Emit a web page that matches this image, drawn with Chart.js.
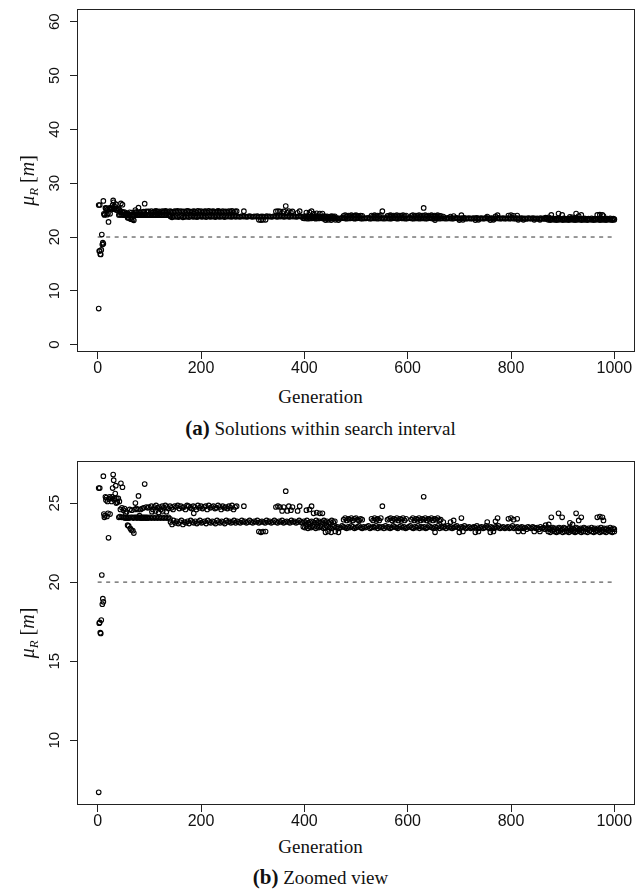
<!DOCTYPE html>
<html>
<head>
<meta charset="utf-8">
<title>mu_R per generation</title>
<script src="https://cdn.jsdelivr.net/npm/chart.js@4.4.1/dist/chart.umd.min.js"></script>
<style>
  body { margin: 0; background: #fff; width: 641px; height: 891px; position: relative; overflow: hidden; }
  canvas { position: absolute; left: 0; }
  .txt { position: absolute; left: 0; width: 641px; text-align: center; font-family: "Liberation Serif", "Times New Roman", serif; color: #111; white-space: nowrap; }
  .txt b { font-size: 21px; }
</style>
</head>
<body>
<canvas id="chartA" width="641" height="380" style="top:0"></canvas>
<div class="txt" style="top:385px;font-size:19px;line-height:24px">Generation</div>
<div class="txt" style="top:415px;font-size:19px;line-height:26px"><b>(a)</b> Solutions within search interval</div>

<canvas id="chartB" width="641" height="390" style="top:445px"></canvas>
<div class="txt" style="top:835px;font-size:19px;line-height:24px">Generation</div>
<div class="txt" style="top:864px;font-size:19px;line-height:26px"><b>(b)</b> Zoomed view</div>

<script>
// [generation, mu_R] pairs, grouped by where they sit in the run
const earlyPhase = [
  [2,6.7],[3,17.4],[4,17.45],[5,16.8],[6,16.75],[7,17.6],[8,20.45],[9,18.6],[10,18.95],[11,18.75],
  [2,25.95],[4,25.95],[11,26.7],[12,24.3],[13,24.1],[14,24.2],[15,25.4],[16,25.2],[17,25.35],[18,24.15],
  [19,25.1],[20,24.35],[21,22.8],[22,25.25],[23,25.4],[24,24.3],[26,25.3],[27,25.1],[28,25.4],[29,25.95],
  [30,26.8],[31,26.45],[32,25.2],[33,25.3],[34,25.6],[35,26.1],[36,25.0],[37,25.3],[38,25.05],[40,25.3],
  [41,24.1],[42,25.1],[43,24.15],[44,24.6],[45,26.25],[46,24.1],[47,24.7],[48,26.0],[49,24.1],[50,24.55],
  [51,24.1],[52,24.65],[53,24.05],[54,24.35],[55,24.1],[56,24.45],[57,24.05],[58,23.6],[59,24.1],[60,23.55],
  [61,24.05],[62,24.6],[63,23.4],[64,24.1],[65,23.3],[66,24.55],[67,24.1],[68,23.25],[69,24.05],[70,23.1],
  [71,24.1],[72,24.6],[73,25.0],[74,24.1],[75,24.65],[76,24.05],[77,24.1],[78,24.6],[79,25.45],[80,24.1],
  [81,24.2],[82,24.05],[83,24.6],[84,24.1],[85,24.05],[86,24.65],[87,24.1],[88,24.05],[89,24.7],[90,24.1],
  [91,26.2],[92,24.05],[93,24.1],[94,24.75],[95,24.05],[96,24.1],[97,24.7],[98,24.05],[99,24.75],
  [101,24.1],[104,24.05],[107,24.1],[110,24.05],[113,24.1],[116,24.05],[119,24.1],[122,24.05],[125,24.1],[128,24.05],
  [131,24.1],[134,24.05],[137,24.1],[140,24.0],[105,24.45],[112,24.5],[118,24.4],[126,24.5],[133,24.45]
];

const upperBand = [
  [104,24.8],[107,24.6],[110,24.75],[113,24.85],[116,24.7],[119,24.75],[122,24.6],[125,24.8],[128,24.7],[131,24.85],
  [134,24.75],[137,24.65],[140,24.8],[143,24.7],[146,24.6],[149,24.8],[152,24.75],[155,24.85],[158,24.65],[161,24.8],
  [164,24.7],[167,24.75],[170,24.6],[173,24.85],[176,24.8],[179,24.7],[182,24.65],[185,24.8],[188,24.75],[191,24.6],
  [194,24.85],[197,24.7],[200,24.8],[203,24.65],[206,24.75],[209,24.8],[212,24.6],[215,24.85],[218,24.7],[221,24.75],
  [224,24.8],[227,24.65],[230,24.7],[233,24.85],[236,24.75],[239,24.6],[242,24.8],[245,24.7],[248,24.75],[251,24.65],
  [254,24.8],[257,24.7],[260,24.85],[263,24.6],[266,24.75],[269,24.8]
];

const midBand = [
  [141,23.8],[144,23.65],[147,23.9],[150,23.75],[153,23.85],[156,23.7],[159,23.8],[162,23.9],[165,23.65],[168,23.8],
  [171,23.75],[174,23.85],[177,23.7],[180,23.9],[183,23.8],[186,23.75],[189,23.85],[192,23.7],[195,23.8],[198,23.9],
  [201,23.75],[204,23.8],[207,23.85],[210,23.7],[213,23.9],[216,23.8],[219,23.75],[222,23.85],[225,23.8],[228,23.7],
  [231,23.9],[234,23.8],[237,23.75],[240,23.85],[243,23.8],[246,23.7],[249,23.9],[252,23.8],[255,23.85],[258,23.75],
  [261,23.8],[264,23.9],[267,23.75],[270,23.85],[273,23.8],[276,23.75],[279,23.9],[282,23.8],[285,23.85],[288,23.75],
  [291,23.8],[294,23.9],[297,23.8],[300,23.75],[303,23.85],[306,23.8],[309,23.9],[312,23.75],[315,23.8],[318,23.85],
  [321,23.8],[324,23.75],[327,23.9],[330,23.8],[333,23.85],[336,23.75],[339,23.8],[342,23.9],[345,23.8],[348,23.75],
  [351,23.85],[354,23.8],[357,23.9],[360,23.75],[363,23.8],[366,23.85],[369,23.8],[372,23.75],[375,23.9],[378,23.8],
  [381,23.85],[384,23.75],[387,23.8],[390,23.9],[393,23.8],[396,23.75],[399,23.85],[402,23.8],[405,23.9],[408,23.75],
  [411,23.8],[414,23.85],[417,23.8],[420,23.75],[423,23.9],[426,23.8],[429,23.85],[432,23.75],[435,23.8],[438,23.9],
  [441,23.8],[444,23.85],[447,23.75],[450,23.8],[453,23.9],[456,23.8],[459,23.85]
];

const lowBand = [
  [398,23.5],[401,23.45],[404,23.55],[407,23.4],[410,23.5],[413,23.45],[416,23.55],[419,23.5],[422,23.4],[425,23.5],
  [428,23.45],[431,23.55],[434,23.5],[437,23.4],[440,23.45],[443,23.55],[446,23.5],[449,23.45],[452,23.4],[455,23.5],
  [458,23.55],[461,23.45],[464,23.5],[467,23.4],[470,23.45],[473,23.55],[476,23.5],[479,23.45],[482,23.4],[485,23.5],
  [488,23.45],[491,23.55],[494,23.5],[497,23.4],[500,23.45],[503,23.5],[506,23.55],[509,23.45],[512,23.4],[515,23.5],
  [518,23.45],[521,23.5],[524,23.55],[527,23.4],[530,23.45],[533,23.5],[536,23.45],[539,23.55],[542,23.4],[545,23.5],
  [548,23.45],[551,23.5],[554,23.4],[557,23.55],[560,23.45],[563,23.5],[566,23.4],[569,23.45],[572,23.55],[575,23.5],
  [578,23.45],[581,23.4],[584,23.5],[587,23.55],[590,23.45],[593,23.5],[596,23.4],[599,23.45],[602,23.5],[605,23.55],
  [608,23.45],[611,23.4],[614,23.5],[617,23.45],[620,23.55],[623,23.4],[626,23.5],[629,23.45],[632,23.5],[635,23.4],
  [638,23.45],[641,23.55],[644,23.5],[647,23.45],[650,23.4],[653,23.5],[656,23.45],[659,23.55],[662,23.4],[665,23.5],
  [668,23.45],[671,23.5],[674,23.4],[677,23.55],[680,23.45],[683,23.5],[686,23.4],[689,23.45],[692,23.5],[695,23.55],
  [698,23.45],[701,23.4],[704,23.5],[707,23.45],[710,23.55],[713,23.4],[716,23.45],[719,23.5],[722,23.4],[725,23.45],
  [728,23.5],[731,23.45],[734,23.55],[737,23.4],[740,23.45],[743,23.5],[746,23.4],[749,23.45],[752,23.55],[755,23.45],
  [758,23.4],[761,23.5],[764,23.45],[767,23.4],[770,23.5],[773,23.45],[776,23.55],[779,23.4],[782,23.45],[785,23.5],
  [788,23.4],[791,23.45],[794,23.5],[797,23.4],[800,23.45],[803,23.55],[806,23.4],[809,23.45],[812,23.5],[815,23.4],
  [818,23.45],[821,23.5],[824,23.4],[827,23.45],[830,23.35],[833,23.5],[836,23.45],[839,23.4],[842,23.5],[845,23.45],
  [848,23.4],[851,23.45],[854,23.35],[857,23.5],[860,23.4],[863,23.45],[866,23.35],[869,23.4],[872,23.45],[875,23.35],
  [878,23.4],[881,23.45],[884,23.35],[887,23.4],[890,23.3],[893,23.45],[896,23.4],[899,23.35],[902,23.45],[905,23.4],
  [908,23.3],[911,23.4],[914,23.45],[917,23.35],[920,23.4],[923,23.3],[926,23.45],[929,23.4],[932,23.35],[935,23.4],
  [938,23.3],[941,23.45],[944,23.4],[947,23.35],[950,23.4],[953,23.3],[956,23.45],[959,23.35],[962,23.4],[965,23.3],
  [968,23.4],[971,23.35],[974,23.45],[977,23.3],[980,23.4],[983,23.35],[986,23.4],[989,23.3],[992,23.45],[995,23.35],
  [998,23.4],[1000,23.35]
];

const floorBand = [
  [872,23.2],[876,23.15],[880,23.25],[884,23.2],[888,23.15],[892,23.2],[896,23.25],[900,23.15],[904,23.2],[908,23.2],
  [912,23.15],[916,23.25],[920,23.2],[924,23.15],[928,23.2],[932,23.25],[936,23.15],[940,23.2],[944,23.2],[948,23.15],
  [952,23.25],[956,23.2],[960,23.15],[964,23.2],[968,23.25],[972,23.15],[976,23.2],[980,23.2],[984,23.15],[988,23.25],
  [992,23.2],[996,23.15],[1000,23.2]
];

const lateStrand = [
  [476,23.95],[479,24.05],[482,23.9],[485,24.0],[488,23.95],[491,24.05],[494,23.9],[497,24.0],[500,24.05],[503,23.95],
  [506,23.9],[509,24.0],[512,23.95],
  [530,24.0],[533,23.9],[536,24.05],[539,23.95],[542,24.0],[545,23.9],[548,24.05],
  [561,23.95],[564,24.0],[567,24.05],[570,23.9],[573,24.0],[576,23.95],[579,24.05],[582,23.9],[585,24.0],[588,23.95],
  [591,24.05],[594,23.9],[597,24.0],
  [607,23.95],[610,24.05],[613,23.9],[616,24.0],[619,23.95],[622,24.05],[625,23.9],[628,24.0],[631,23.95],[634,24.05],
  [637,23.9],[640,24.0],[643,23.95],[646,24.05],[649,23.9],[652,24.0],[655,23.95],[658,24.05],[661,23.9],[664,23.95]
];

const strays = [
  [186,24.35],[283,24.8],[312,23.2],[316,23.15],[320,23.2],[325,23.2],[345,24.75],[349,24.8],[353,24.75],[357,24.5],
  [360,24.75],[364,25.75],[367,24.5],[370,24.8],[374,24.55],[377,24.75],[387,24.5],[391,24.8],[404,24.55],[410,24.6],
  [414,24.8],[418,24.35],[424,24.4],[430,24.35],[435,24.35],[441,23.15],[446,23.2],[452,23.15],[460,23.2],[466,23.15],
  [551,24.8],[631,25.4],[653,23.15],[669,23.8],[683,23.8],[689,23.9],[700,23.15],[704,24.05],[707,23.2],[731,23.15],
  [737,23.2],[754,23.8],[760,23.15],[766,23.2],[770,23.85],[774,24.05],[795,24.0],[800,24.05],[805,23.95],[812,24.0],
  [814,23.2],[824,23.2],[845,23.2],[856,23.2],[867,23.6],[873,23.65],[878,24.1],[892,24.35],[899,24.1],[914,23.75],
  [919,23.65],[926,24.35],[931,23.9],[936,24.1],[967,24.1],[972,24.15],[977,24.1],[979,23.9]
];

const genTicks = [0, 200, 400, 600, 800, 1000];
const muTicksFull = [0, 10, 20, 30, 40, 50, 60];
const muTicksZoom = [10, 15, 20, 25];
const targetMu = 20;

const solutions = [...earlyPhase, ...upperBand, ...midBand, ...lowBand, ...floorBand, ...lateStrand, ...strays]
  .map(([g, m]) => ({ x: g, y: m }));

const SANS = '"Liberation Sans", Arial, Helvetica, sans-serif';
const SERIF = '"Liberation Serif", "Times New Roman", serif';

// box, rotated y labels and the mu_R [m] title, drawn like base R graphics
const rFrame = {
  id: 'rFrame',
  afterDraw(chart) {
    const { ctx, chartArea: a } = chart;
    const y = chart.scales.y;
    ctx.save();
    ctx.strokeStyle = '#222';
    ctx.lineWidth = 1;
    ctx.strokeRect(Math.round(a.left) + 0.5, Math.round(a.top) + 0.5,
      Math.round(a.right - a.left) - 1, Math.round(a.bottom - a.top) - 1);

    ctx.fillStyle = '#111';
    ctx.font = '15px ' + SANS;
    ctx.textAlign = 'center';
    ctx.textBaseline = 'middle';
    y.ticks.forEach(t => {
      ctx.save();
      ctx.translate(55, y.getPixelForValue(t.value));
      ctx.rotate(-Math.PI / 2);
      ctx.fillText(t.label, 0, 0);
      ctx.restore();
    });

    const parts = [
      ['\u03BC', 'italic 20px ' + SERIF, 0],
      ['R', 'italic 13px ' + SERIF, 4],
      [' [', '20px ' + SERIF, 0],
      ['m', 'italic 20px ' + SERIF, 0],
      [']', '20px ' + SERIF, 0]
    ];
    let total = 0;
    parts.forEach(p => { ctx.font = p[1]; total += ctx.measureText(p[0]).width; });
    ctx.translate(28, (a.top + a.bottom) / 2);
    ctx.rotate(-Math.PI / 2);
    ctx.textAlign = 'left';
    ctx.textBaseline = 'alphabetic';
    let cx = -total / 2;
    parts.forEach(p => {
      ctx.font = p[1];
      ctx.fillText(p[0], cx, 6 + p[2]);
      cx += ctx.measureText(p[0]).width;
    });
    ctx.restore();
  }
};

function makeChart(id, yMin, yMax, yTicks, areaTop, areaBottom) {
  const canvas = document.getElementById(id);
  return new Chart(canvas.getContext('2d'), {
    type: 'scatter',
    data: {
      datasets: [{
        data: solutions,
        pointRadius: 2.3,
        pointBorderWidth: 1.1,
        pointBackgroundColor: 'rgba(0,0,0,0)',
        pointBorderColor: '#000'
      }, {
        data: [{ x: 0, y: targetMu }, { x: 1000, y: targetMu }],
        showLine: true,
        borderColor: '#333',
        borderWidth: 1,
        borderDash: [4, 4.5],
        pointRadius: 0
      }]
    },
    options: {
      responsive: false,
      animation: false,
      events: [],
      layout: { padding: { top: areaTop, right: 6, left: 0, bottom: 0 } },
      plugins: { legend: { display: false }, tooltip: { enabled: false } },
      scales: {
        x: {
          type: 'linear',
          min: -40,
          max: 1040,
          afterBuildTicks: s => { s.ticks = genTicks.map(v => ({ value: v })); },
          afterFit: s => { s.height = canvas.height - areaBottom; },
          grid: { drawOnChartArea: false, drawTicks: true, tickLength: 7, color: '#222' },
          border: { display: false },
          ticks: {
            color: '#111', font: { family: SANS, size: 16 }, padding: 0, maxRotation: 0, autoSkip: false,
            callback: v => String(v)
          }
        },
        y: {
          type: 'linear',
          min: yMin,
          max: yMax,
          afterBuildTicks: s => { s.ticks = yTicks.map(v => ({ value: v })); },
          afterFit: s => { s.width = 77; },
          grid: { drawOnChartArea: false, drawTicks: true, tickLength: 7, color: '#222' },
          border: { display: false },
          ticks: { display: false }
        }
      }
    },
    plugins: [rFrame]
  });
}

makeChart('chartA', -1.36, 62.36, muTicksFull, 9, 352);
makeChart('chartB', 5.9, 27.66, muTicksZoom, 16, 360);
</script>
</body>
</html>
